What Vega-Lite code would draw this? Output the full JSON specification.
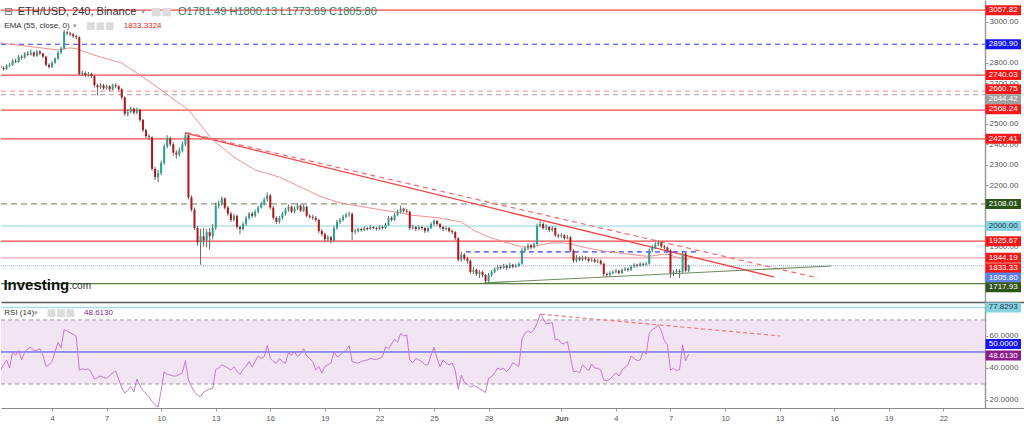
{
"$schema": "https://vega.github.io/schema/vega-lite/v6.json",
"padding": 0,
"spacing": 0,
"background": "#ffffff",
"config": {"view": {"stroke": null}, "font": "Liberation Sans", "axis": {"labelOverlap": false}, "axisY": {"labelOverlap": false}, "axisRight": {"labelOverlap": false}},
"datasets": {
"candles": [
{"t":"2022-05-01T04:00:00Z","o":2785,"h":2792,"l":2765,"c":2775,"r":38.7,"e":2897},
{"t":"2022-05-01T08:00:00Z","o":2775,"h":2782,"l":2762,"c":2770,"r":42,"e":2895},
{"t":"2022-05-01T12:00:00Z","o":2770,"h":2792,"l":2765,"c":2785,"r":45,"e":2893},
{"t":"2022-05-01T16:00:00Z","o":2785,"h":2800,"l":2778,"c":2790,"r":40,"e":2892},
{"t":"2022-05-01T20:00:00Z","o":2790,"h":2818,"l":2785,"c":2810,"r":50,"e":2890},
{"t":"2022-05-02T00:00:00Z","o":2810,"h":2820,"l":2798,"c":2805,"r":48,"e":2888},
{"t":"2022-05-02T04:00:00Z","o":2805,"h":2838,"l":2800,"c":2830,"r":51,"e":2886},
{"t":"2022-05-02T08:00:00Z","o":2830,"h":2840,"l":2815,"c":2825,"r":45,"e":2884},
{"t":"2022-05-02T12:00:00Z","o":2825,"h":2852,"l":2820,"c":2845,"r":50,"e":2883},
{"t":"2022-05-02T16:00:00Z","o":2845,"h":2858,"l":2832,"c":2840,"r":52,"e":2881},
{"t":"2022-05-02T20:00:00Z","o":2840,"h":2865,"l":2835,"c":2850,"r":53,"e":2879},
{"t":"2022-05-03T00:00:00Z","o":2850,"h":2856,"l":2828,"c":2835,"r":51,"e":2877},
{"t":"2022-05-03T04:00:00Z","o":2835,"h":2862,"l":2830,"c":2855,"r":51,"e":2875},
{"t":"2022-05-03T08:00:00Z","o":2855,"h":2862,"l":2838,"c":2845,"r":52,"e":2874},
{"t":"2022-05-03T12:00:00Z","o":2845,"h":2850,"l":2822,"c":2830,"r":48,"e":2872},
{"t":"2022-05-03T16:00:00Z","o":2830,"h":2835,"l":2782,"c":2790,"r":41,"e":2870},
{"t":"2022-05-03T20:00:00Z","o":2790,"h":2798,"l":2772,"c":2780,"r":42,"e":2868},
{"t":"2022-05-04T00:00:00Z","o":2780,"h":2808,"l":2775,"c":2800,"r":44,"e":2866},
{"t":"2022-05-04T04:00:00Z","o":2800,"h":2828,"l":2795,"c":2820,"r":50,"e":2865},
{"t":"2022-05-04T08:00:00Z","o":2820,"h":2858,"l":2815,"c":2850,"r":56,"e":2863},
{"t":"2022-05-04T12:00:00Z","o":2850,"h":2880,"l":2842,"c":2870,"r":52.5,"e":2866},
{"t":"2022-05-04T16:00:00Z","o":2870,"h":2962,"l":2865,"c":2950,"r":64,"e":2869},
{"t":"2022-05-04T20:00:00Z","o":2950,"h":2958,"l":2935,"c":2945,"r":63,"e":2871},
{"t":"2022-05-05T00:00:00Z","o":2945,"h":2952,"l":2930,"c":2940,"r":62,"e":2873},
{"t":"2022-05-05T04:00:00Z","o":2940,"h":2946,"l":2922,"c":2930,"r":61,"e":2871},
{"t":"2022-05-05T08:00:00Z","o":2930,"h":2938,"l":2915,"c":2925,"r":59.6,"e":2869},
{"t":"2022-05-05T12:00:00Z","o":2925,"h":2930,"l":2738,"c":2745,"r":38.7,"e":2863},
{"t":"2022-05-05T16:00:00Z","o":2745,"h":2762,"l":2735,"c":2750,"r":39.5,"e":2858},
{"t":"2022-05-05T20:00:00Z","o":2750,"h":2758,"l":2730,"c":2740,"r":39,"e":2853},
{"t":"2022-05-06T00:00:00Z","o":2740,"h":2755,"l":2732,"c":2745,"r":39.4,"e":2848},
{"t":"2022-05-06T04:00:00Z","o":2745,"h":2752,"l":2725,"c":2735,"r":37,"e":2843},
{"t":"2022-05-06T08:00:00Z","o":2735,"h":2740,"l":2680,"c":2690,"r":33,"e":2838},
{"t":"2022-05-06T12:00:00Z","o":2690,"h":2698,"l":2640,"c":2680,"r":34,"e":2833},
{"t":"2022-05-06T16:00:00Z","o":2680,"h":2700,"l":2672,"c":2690,"r":35,"e":2828},
{"t":"2022-05-06T20:00:00Z","o":2690,"h":2696,"l":2668,"c":2675,"r":34,"e":2824},
{"t":"2022-05-07T00:00:00Z","o":2675,"h":2694,"l":2668,"c":2685,"r":33.7,"e":2820},
{"t":"2022-05-07T04:00:00Z","o":2685,"h":2690,"l":2662,"c":2670,"r":35,"e":2816},
{"t":"2022-05-07T08:00:00Z","o":2670,"h":2698,"l":2665,"c":2690,"r":37,"e":2811},
{"t":"2022-05-07T12:00:00Z","o":2690,"h":2700,"l":2676,"c":2685,"r":38,"e":2807},
{"t":"2022-05-07T16:00:00Z","o":2685,"h":2692,"l":2660,"c":2670,"r":33,"e":2803},
{"t":"2022-05-07T20:00:00Z","o":2670,"h":2675,"l":2620,"c":2630,"r":27.5,"e":2799},
{"t":"2022-05-08T00:00:00Z","o":2630,"h":2636,"l":2540,"c":2550,"r":24.4,"e":2789},
{"t":"2022-05-08T04:00:00Z","o":2550,"h":2572,"l":2538,"c":2560,"r":26,"e":2779},
{"t":"2022-05-08T08:00:00Z","o":2560,"h":2585,"l":2552,"c":2575,"r":28.3,"e":2770},
{"t":"2022-05-08T12:00:00Z","o":2575,"h":2580,"l":2545,"c":2555,"r":25,"e":2760},
{"t":"2022-05-08T16:00:00Z","o":2555,"h":2580,"l":2548,"c":2570,"r":33,"e":2750},
{"t":"2022-05-08T20:00:00Z","o":2570,"h":2575,"l":2510,"c":2520,"r":29,"e":2740},
{"t":"2022-05-09T00:00:00Z","o":2520,"h":2525,"l":2460,"c":2470,"r":26,"e":2730},
{"t":"2022-05-09T04:00:00Z","o":2470,"h":2478,"l":2430,"c":2440,"r":24,"e":2719},
{"t":"2022-05-09T08:00:00Z","o":2440,"h":2450,"l":2420,"c":2435,"r":22,"e":2709},
{"t":"2022-05-09T12:00:00Z","o":2435,"h":2440,"l":2270,"c":2280,"r":19,"e":2698},
{"t":"2022-05-09T16:00:00Z","o":2280,"h":2290,"l":2225,"c":2240,"r":17,"e":2688},
{"t":"2022-05-09T20:00:00Z","o":2240,"h":2275,"l":2215,"c":2260,"r":15.6,"e":2677},
{"t":"2022-05-10T00:00:00Z","o":2260,"h":2320,"l":2250,"c":2310,"r":26,"e":2667},
{"t":"2022-05-10T04:00:00Z","o":2310,"h":2400,"l":2300,"c":2390,"r":37.7,"e":2656},
{"t":"2022-05-10T08:00:00Z","o":2390,"h":2445,"l":2380,"c":2430,"r":36,"e":2645},
{"t":"2022-05-10T12:00:00Z","o":2430,"h":2438,"l":2390,"c":2400,"r":35.6,"e":2634},
{"t":"2022-05-10T16:00:00Z","o":2400,"h":2410,"l":2345,"c":2360,"r":35,"e":2623},
{"t":"2022-05-10T20:00:00Z","o":2360,"h":2372,"l":2330,"c":2350,"r":35,"e":2612},
{"t":"2022-05-11T00:00:00Z","o":2350,"h":2385,"l":2340,"c":2370,"r":36,"e":2601},
{"t":"2022-05-11T04:00:00Z","o":2370,"h":2415,"l":2360,"c":2400,"r":37,"e":2591},
{"t":"2022-05-11T08:00:00Z","o":2400,"h":2458,"l":2390,"c":2445,"r":44.6,"e":2580},
{"t":"2022-05-11T12:00:00Z","o":2445,"h":2452,"l":2130,"c":2140,"r":32.5,"e":2569},
{"t":"2022-05-11T16:00:00Z","o":2140,"h":2150,"l":2070,"c":2080,"r":28.3,"e":2551},
{"t":"2022-05-11T20:00:00Z","o":2080,"h":2090,"l":1980,"c":1990,"r":25,"e":2532},
{"t":"2022-05-12T00:00:00Z","o":1990,"h":2000,"l":1905,"c":1920,"r":23,"e":2514},
{"t":"2022-05-12T04:00:00Z","o":1920,"h":1985,"l":1810,"c":1950,"r":22,"e":2496},
{"t":"2022-05-12T08:00:00Z","o":1950,"h":1990,"l":1900,"c":1930,"r":25,"e":2477},
{"t":"2022-05-12T12:00:00Z","o":1930,"h":1985,"l":1895,"c":1970,"r":26,"e":2459},
{"t":"2022-05-12T16:00:00Z","o":1970,"h":1990,"l":1885,"c":1950,"r":27,"e":2440},
{"t":"2022-05-12T20:00:00Z","o":1950,"h":2010,"l":1935,"c":1990,"r":27,"e":2422},
{"t":"2022-05-13T00:00:00Z","o":1990,"h":2115,"l":1980,"c":2100,"r":39,"e":2410},
{"t":"2022-05-13T04:00:00Z","o":2100,"h":2125,"l":2085,"c":2110,"r":40,"e":2398},
{"t":"2022-05-13T08:00:00Z","o":2110,"h":2145,"l":2100,"c":2135,"r":42,"e":2386},
{"t":"2022-05-13T12:00:00Z","o":2135,"h":2140,"l":2080,"c":2090,"r":41,"e":2374},
{"t":"2022-05-13T16:00:00Z","o":2090,"h":2098,"l":2050,"c":2060,"r":40,"e":2362},
{"t":"2022-05-13T20:00:00Z","o":2060,"h":2070,"l":2020,"c":2030,"r":38.7,"e":2350},
{"t":"2022-05-14T00:00:00Z","o":2030,"h":2060,"l":2022,"c":2050,"r":40.8,"e":2338},
{"t":"2022-05-14T04:00:00Z","o":2050,"h":2055,"l":1985,"c":1995,"r":38,"e":2329},
{"t":"2022-05-14T08:00:00Z","o":1995,"h":2002,"l":1960,"c":1985,"r":36,"e":2320},
{"t":"2022-05-14T12:00:00Z","o":1985,"h":2020,"l":1978,"c":2010,"r":39,"e":2311},
{"t":"2022-05-14T16:00:00Z","o":2010,"h":2050,"l":2002,"c":2040,"r":41,"e":2302},
{"t":"2022-05-14T20:00:00Z","o":2040,"h":2068,"l":2030,"c":2060,"r":44,"e":2293},
{"t":"2022-05-15T00:00:00Z","o":2060,"h":2070,"l":2040,"c":2050,"r":40.6,"e":2284},
{"t":"2022-05-15T04:00:00Z","o":2050,"h":2080,"l":2042,"c":2070,"r":44,"e":2275},
{"t":"2022-05-15T08:00:00Z","o":2070,"h":2100,"l":2062,"c":2090,"r":47.5,"e":2271},
{"t":"2022-05-15T12:00:00Z","o":2090,"h":2120,"l":2085,"c":2110,"r":46,"e":2266},
{"t":"2022-05-15T16:00:00Z","o":2110,"h":2140,"l":2100,"c":2130,"r":47,"e":2262},
{"t":"2022-05-15T20:00:00Z","o":2130,"h":2165,"l":2120,"c":2150,"r":54,"e":2257},
{"t":"2022-05-16T00:00:00Z","o":2150,"h":2158,"l":2082,"c":2090,"r":46,"e":2253},
{"t":"2022-05-16T04:00:00Z","o":2090,"h":2098,"l":2030,"c":2040,"r":44,"e":2249},
{"t":"2022-05-16T08:00:00Z","o":2040,"h":2048,"l":2010,"c":2020,"r":43,"e":2244},
{"t":"2022-05-16T12:00:00Z","o":2020,"h":2050,"l":2012,"c":2040,"r":46,"e":2240},
{"t":"2022-05-16T16:00:00Z","o":2040,"h":2070,"l":2032,"c":2060,"r":44,"e":2233},
{"t":"2022-05-16T20:00:00Z","o":2060,"h":2090,"l":2050,"c":2080,"r":43,"e":2226},
{"t":"2022-05-17T00:00:00Z","o":2080,"h":2105,"l":2070,"c":2095,"r":49.6,"e":2219},
{"t":"2022-05-17T04:00:00Z","o":2095,"h":2100,"l":2062,"c":2070,"r":48,"e":2212},
{"t":"2022-05-17T08:00:00Z","o":2070,"h":2095,"l":2062,"c":2085,"r":50,"e":2205},
{"t":"2022-05-17T12:00:00Z","o":2085,"h":2112,"l":2078,"c":2100,"r":47,"e":2198},
{"t":"2022-05-17T16:00:00Z","o":2100,"h":2106,"l":2068,"c":2075,"r":49,"e":2191},
{"t":"2022-05-17T20:00:00Z","o":2075,"h":2105,"l":2068,"c":2095,"r":52,"e":2184},
{"t":"2022-05-18T00:00:00Z","o":2095,"h":2100,"l":2042,"c":2050,"r":47.5,"e":2177},
{"t":"2022-05-18T04:00:00Z","o":2050,"h":2058,"l":2035,"c":2045,"r":46,"e":2170},
{"t":"2022-05-18T08:00:00Z","o":2045,"h":2055,"l":2030,"c":2040,"r":44,"e":2163},
{"t":"2022-05-18T12:00:00Z","o":2040,"h":2048,"l":2022,"c":2030,"r":38.7,"e":2156},
{"t":"2022-05-18T16:00:00Z","o":2030,"h":2035,"l":1965,"c":1975,"r":41,"e":2149},
{"t":"2022-05-18T20:00:00Z","o":1975,"h":1985,"l":1950,"c":1960,"r":36.7,"e":2142},
{"t":"2022-05-19T00:00:00Z","o":1960,"h":1968,"l":1922,"c":1935,"r":41,"e":2137},
{"t":"2022-05-19T04:00:00Z","o":1935,"h":1955,"l":1925,"c":1945,"r":42,"e":2132},
{"t":"2022-05-19T08:00:00Z","o":1945,"h":1952,"l":1915,"c":1930,"r":43,"e":2128},
{"t":"2022-05-19T12:00:00Z","o":1930,"h":2000,"l":1925,"c":1990,"r":50,"e":2123},
{"t":"2022-05-19T16:00:00Z","o":1990,"h":2030,"l":1982,"c":2020,"r":47,"e":2118},
{"t":"2022-05-19T20:00:00Z","o":2020,"h":2040,"l":2010,"c":2030,"r":48,"e":2113},
{"t":"2022-05-20T00:00:00Z","o":2030,"h":2055,"l":2022,"c":2045,"r":50,"e":2111},
{"t":"2022-05-20T04:00:00Z","o":2045,"h":2065,"l":2038,"c":2055,"r":51,"e":2108},
{"t":"2022-05-20T08:00:00Z","o":2055,"h":2070,"l":2045,"c":2060,"r":54,"e":2106},
{"t":"2022-05-20T12:00:00Z","o":2060,"h":2066,"l":1930,"c":1970,"r":44,"e":2103},
{"t":"2022-05-20T16:00:00Z","o":1970,"h":1985,"l":1960,"c":1975,"r":43.5,"e":2101},
{"t":"2022-05-20T20:00:00Z","o":1975,"h":1992,"l":1968,"c":1985,"r":43,"e":2098},
{"t":"2022-05-21T00:00:00Z","o":1985,"h":1992,"l":1972,"c":1980,"r":44,"e":2096},
{"t":"2022-05-21T04:00:00Z","o":1980,"h":1998,"l":1974,"c":1990,"r":44.6,"e":2093},
{"t":"2022-05-21T08:00:00Z","o":1990,"h":1996,"l":1978,"c":1985,"r":45,"e":2091},
{"t":"2022-05-21T12:00:00Z","o":1985,"h":2002,"l":1980,"c":1995,"r":46,"e":2088},
{"t":"2022-05-21T16:00:00Z","o":1995,"h":2000,"l":1983,"c":1990,"r":45.5,"e":2086},
{"t":"2022-05-21T20:00:00Z","o":1990,"h":1996,"l":1978,"c":1985,"r":45.4,"e":2083},
{"t":"2022-05-22T00:00:00Z","o":1985,"h":2004,"l":1980,"c":1995,"r":46,"e":2081},
{"t":"2022-05-22T04:00:00Z","o":1995,"h":2002,"l":1982,"c":1990,"r":47,"e":2078},
{"t":"2022-05-22T08:00:00Z","o":1990,"h":2015,"l":1985,"c":2005,"r":53.3,"e":2076},
{"t":"2022-05-22T12:00:00Z","o":2005,"h":2050,"l":2000,"c":2040,"r":52,"e":2074},
{"t":"2022-05-22T16:00:00Z","o":2040,"h":2048,"l":2022,"c":2030,"r":55,"e":2071},
{"t":"2022-05-22T20:00:00Z","o":2030,"h":2065,"l":2025,"c":2055,"r":58,"e":2069},
{"t":"2022-05-23T00:00:00Z","o":2055,"h":2080,"l":2048,"c":2070,"r":56,"e":2066},
{"t":"2022-05-23T04:00:00Z","o":2070,"h":2100,"l":2062,"c":2085,"r":61.6,"e":2064},
{"t":"2022-05-23T08:00:00Z","o":2085,"h":2090,"l":2065,"c":2075,"r":60,"e":2061},
{"t":"2022-05-23T12:00:00Z","o":2075,"h":2085,"l":2060,"c":2070,"r":60.6,"e":2057},
{"t":"2022-05-23T16:00:00Z","o":2070,"h":2075,"l":1980,"c":1990,"r":45,"e":2054},
{"t":"2022-05-23T20:00:00Z","o":1990,"h":2005,"l":1982,"c":1995,"r":43.3,"e":2053},
{"t":"2022-05-24T00:00:00Z","o":1995,"h":2000,"l":1975,"c":1985,"r":46,"e":2051},
{"t":"2022-05-24T04:00:00Z","o":1985,"h":2002,"l":1978,"c":1995,"r":45,"e":2050},
{"t":"2022-05-24T08:00:00Z","o":1995,"h":2000,"l":1980,"c":1990,"r":44,"e":2048},
{"t":"2022-05-24T12:00:00Z","o":1990,"h":1995,"l":1965,"c":1975,"r":42,"e":2047},
{"t":"2022-05-24T16:00:00Z","o":1975,"h":1998,"l":1968,"c":1990,"r":42,"e":2045},
{"t":"2022-05-24T20:00:00Z","o":1990,"h":2018,"l":1985,"c":2010,"r":48,"e":2044},
{"t":"2022-05-25T00:00:00Z","o":2010,"h":2032,"l":2002,"c":2025,"r":53,"e":2042},
{"t":"2022-05-25T04:00:00Z","o":2025,"h":2030,"l":2002,"c":2010,"r":46,"e":2041},
{"t":"2022-05-25T08:00:00Z","o":2010,"h":2015,"l":1985,"c":1995,"r":40.8,"e":2039},
{"t":"2022-05-25T12:00:00Z","o":1995,"h":2000,"l":1975,"c":1985,"r":45,"e":2036},
{"t":"2022-05-25T16:00:00Z","o":1985,"h":1998,"l":1978,"c":1990,"r":43,"e":2034},
{"t":"2022-05-25T20:00:00Z","o":1990,"h":1995,"l":1968,"c":1975,"r":42,"e":2031},
{"t":"2022-05-26T00:00:00Z","o":1975,"h":1982,"l":1960,"c":1970,"r":43,"e":2028},
{"t":"2022-05-26T04:00:00Z","o":1970,"h":1975,"l":1930,"c":1940,"r":38.7,"e":2025},
{"t":"2022-05-26T08:00:00Z","o":1940,"h":1945,"l":1825,"c":1835,"r":26.7,"e":2023},
{"t":"2022-05-26T12:00:00Z","o":1835,"h":1875,"l":1825,"c":1860,"r":35.6,"e":2020},
{"t":"2022-05-26T16:00:00Z","o":1860,"h":1868,"l":1830,"c":1840,"r":31,"e":2010},
{"t":"2022-05-26T20:00:00Z","o":1840,"h":1850,"l":1815,"c":1830,"r":30,"e":2000},
{"t":"2022-05-27T00:00:00Z","o":1830,"h":1835,"l":1765,"c":1775,"r":28,"e":1990},
{"t":"2022-05-27T04:00:00Z","o":1775,"h":1800,"l":1765,"c":1785,"r":29,"e":1980},
{"t":"2022-05-27T08:00:00Z","o":1785,"h":1792,"l":1755,"c":1765,"r":28.3,"e":1973},
{"t":"2022-05-27T12:00:00Z","o":1765,"h":1785,"l":1745,"c":1775,"r":27,"e":1967},
{"t":"2022-05-27T16:00:00Z","o":1775,"h":1782,"l":1748,"c":1760,"r":26,"e":1960},
{"t":"2022-05-27T20:00:00Z","o":1760,"h":1765,"l":1718,"c":1730,"r":24.6,"e":1954},
{"t":"2022-05-28T00:00:00Z","o":1730,"h":1770,"l":1722,"c":1760,"r":33.5,"e":1947},
{"t":"2022-05-28T04:00:00Z","o":1760,"h":1785,"l":1752,"c":1775,"r":34.6,"e":1941},
{"t":"2022-05-28T08:00:00Z","o":1775,"h":1798,"l":1768,"c":1790,"r":37,"e":1937},
{"t":"2022-05-28T12:00:00Z","o":1790,"h":1810,"l":1782,"c":1800,"r":40,"e":1932},
{"t":"2022-05-28T16:00:00Z","o":1800,"h":1808,"l":1786,"c":1795,"r":39,"e":1928},
{"t":"2022-05-28T20:00:00Z","o":1795,"h":1815,"l":1788,"c":1805,"r":39.8,"e":1923},
{"t":"2022-05-29T00:00:00Z","o":1805,"h":1812,"l":1785,"c":1795,"r":37.7,"e":1919},
{"t":"2022-05-29T04:00:00Z","o":1795,"h":1820,"l":1790,"c":1810,"r":40,"e":1915},
{"t":"2022-05-29T08:00:00Z","o":1810,"h":1815,"l":1792,"c":1800,"r":43.3,"e":1910},
{"t":"2022-05-29T12:00:00Z","o":1800,"h":1815,"l":1795,"c":1805,"r":42,"e":1906},
{"t":"2022-05-29T16:00:00Z","o":1805,"h":1822,"l":1798,"c":1815,"r":41,"e":1901},
{"t":"2022-05-29T20:00:00Z","o":1815,"h":1892,"l":1810,"c":1880,"r":58,"e":1897},
{"t":"2022-05-30T00:00:00Z","o":1880,"h":1900,"l":1870,"c":1890,"r":61.7,"e":1898},
{"t":"2022-05-30T04:00:00Z","o":1890,"h":1915,"l":1882,"c":1905,"r":63.3,"e":1898},
{"t":"2022-05-30T08:00:00Z","o":1905,"h":1912,"l":1885,"c":1895,"r":62,"e":1899},
{"t":"2022-05-30T12:00:00Z","o":1895,"h":1920,"l":1890,"c":1910,"r":64,"e":1899},
{"t":"2022-05-30T16:00:00Z","o":1910,"h":2012,"l":1905,"c":2000,"r":68,"e":1903},
{"t":"2022-05-30T20:00:00Z","o":2000,"h":2025,"l":1992,"c":2010,"r":73.5,"e":1907},
{"t":"2022-05-31T00:00:00Z","o":2010,"h":2018,"l":1982,"c":1990,"r":71,"e":1910},
{"t":"2022-05-31T04:00:00Z","o":1990,"h":2008,"l":1980,"c":1995,"r":67.5,"e":1913},
{"t":"2022-05-31T08:00:00Z","o":1995,"h":2000,"l":1970,"c":1980,"r":68,"e":1915},
{"t":"2022-05-31T12:00:00Z","o":1980,"h":2000,"l":1972,"c":1990,"r":68.3,"e":1917},
{"t":"2022-05-31T16:00:00Z","o":1990,"h":1995,"l":1945,"c":1955,"r":57.5,"e":1918},
{"t":"2022-05-31T20:00:00Z","o":1955,"h":1962,"l":1940,"c":1950,"r":58,"e":1918},
{"t":"2022-06-01T00:00:00Z","o":1950,"h":1965,"l":1942,"c":1955,"r":55.4,"e":1917},
{"t":"2022-06-01T04:00:00Z","o":1955,"h":1960,"l":1932,"c":1940,"r":55,"e":1916},
{"t":"2022-06-01T08:00:00Z","o":1940,"h":1955,"l":1935,"c":1945,"r":56.5,"e":1915},
{"t":"2022-06-01T12:00:00Z","o":1945,"h":1950,"l":1872,"c":1880,"r":47,"e":1913},
{"t":"2022-06-01T16:00:00Z","o":1880,"h":1885,"l":1820,"c":1830,"r":37.7,"e":1909},
{"t":"2022-06-01T20:00:00Z","o":1830,"h":1858,"l":1822,"c":1845,"r":38,"e":1905},
{"t":"2022-06-02T00:00:00Z","o":1845,"h":1852,"l":1828,"c":1835,"r":37,"e":1901},
{"t":"2022-06-02T04:00:00Z","o":1835,"h":1855,"l":1828,"c":1845,"r":42,"e":1897},
{"t":"2022-06-02T08:00:00Z","o":1845,"h":1852,"l":1832,"c":1840,"r":40,"e":1894},
{"t":"2022-06-02T12:00:00Z","o":1840,"h":1848,"l":1822,"c":1830,"r":38.3,"e":1891},
{"t":"2022-06-02T16:00:00Z","o":1830,"h":1845,"l":1825,"c":1835,"r":42.5,"e":1888},
{"t":"2022-06-02T20:00:00Z","o":1835,"h":1842,"l":1818,"c":1825,"r":40,"e":1885},
{"t":"2022-06-03T00:00:00Z","o":1825,"h":1838,"l":1818,"c":1830,"r":39.8,"e":1882},
{"t":"2022-06-03T04:00:00Z","o":1830,"h":1836,"l":1808,"c":1815,"r":38.7,"e":1880},
{"t":"2022-06-03T08:00:00Z","o":1815,"h":1820,"l":1752,"c":1765,"r":32.5,"e":1877},
{"t":"2022-06-03T12:00:00Z","o":1765,"h":1772,"l":1750,"c":1760,"r":32,"e":1875},
{"t":"2022-06-03T16:00:00Z","o":1760,"h":1778,"l":1752,"c":1770,"r":33,"e":1873},
{"t":"2022-06-03T20:00:00Z","o":1770,"h":1782,"l":1762,"c":1775,"r":35,"e":1871},
{"t":"2022-06-04T00:00:00Z","o":1775,"h":1790,"l":1768,"c":1780,"r":37,"e":1870},
{"t":"2022-06-04T04:00:00Z","o":1780,"h":1786,"l":1762,"c":1770,"r":35,"e":1868},
{"t":"2022-06-04T08:00:00Z","o":1770,"h":1792,"l":1765,"c":1785,"r":38.7,"e":1866},
{"t":"2022-06-04T12:00:00Z","o":1785,"h":1798,"l":1778,"c":1790,"r":40.4,"e":1864},
{"t":"2022-06-04T16:00:00Z","o":1790,"h":1796,"l":1776,"c":1785,"r":42,"e":1862},
{"t":"2022-06-04T20:00:00Z","o":1785,"h":1808,"l":1780,"c":1800,"r":47.5,"e":1861},
{"t":"2022-06-05T00:00:00Z","o":1800,"h":1818,"l":1795,"c":1810,"r":46,"e":1859},
{"t":"2022-06-05T04:00:00Z","o":1810,"h":1815,"l":1796,"c":1805,"r":44.6,"e":1857},
{"t":"2022-06-05T08:00:00Z","o":1805,"h":1822,"l":1800,"c":1815,"r":45,"e":1855},
{"t":"2022-06-05T12:00:00Z","o":1815,"h":1820,"l":1802,"c":1810,"r":50.2,"e":1854},
{"t":"2022-06-05T16:00:00Z","o":1810,"h":1825,"l":1805,"c":1815,"r":48.7,"e":1852},
{"t":"2022-06-05T20:00:00Z","o":1815,"h":1890,"l":1810,"c":1880,"r":61.7,"e":1853},
{"t":"2022-06-06T00:00:00Z","o":1880,"h":1905,"l":1872,"c":1895,"r":64,"e":1854},
{"t":"2022-06-06T04:00:00Z","o":1895,"h":1922,"l":1888,"c":1910,"r":65,"e":1856},
{"t":"2022-06-06T08:00:00Z","o":1910,"h":1930,"l":1902,"c":1920,"r":67,"e":1858},
{"t":"2022-06-06T12:00:00Z","o":1920,"h":1925,"l":1892,"c":1900,"r":63,"e":1860},
{"t":"2022-06-06T16:00:00Z","o":1900,"h":1908,"l":1885,"c":1895,"r":57,"e":1861},
{"t":"2022-06-06T20:00:00Z","o":1895,"h":1900,"l":1872,"c":1880,"r":54.4,"e":1862},
{"t":"2022-06-07T00:00:00Z","o":1880,"h":1885,"l":1745,"c":1770,"r":38.7,"e":1858},
{"t":"2022-06-07T04:00:00Z","o":1770,"h":1785,"l":1755,"c":1775,"r":39.8,"e":1852},
{"t":"2022-06-07T08:00:00Z","o":1775,"h":1790,"l":1765,"c":1780,"r":38.3,"e":1847},
{"t":"2022-06-07T12:00:00Z","o":1780,"h":1788,"l":1745,"c":1775,"r":39,"e":1843},
{"t":"2022-06-07T16:00:00Z","o":1775,"h":1875,"l":1770,"c":1865,"r":54.4,"e":1841},
{"t":"2022-06-07T20:00:00Z","o":1865,"h":1870,"l":1775,"c":1781.49,"r":44.6,"e":1837},
{"t":"2022-06-08T00:00:00Z","o":1781.49,"h":1810,"l":1773.69,"c":1805.8,"r":48.6,"e":1833.3}
],
"levels": [
{"p":3057.82,"s":"red"},{"p":2890.90,"s":"bluedash"},{"p":2740.03,"s":"red"},{"p":2660.75,"s":"reddash"},
{"p":2644.42,"s":"graydash"},{"p":2568.24,"s":"red"},{"p":2427.41,"s":"red"},{"p":2108.01,"s":"olivedash"},
{"p":2000.00,"s":"cyan"},{"p":1925.67,"s":"red"},{"p":1844.19,"s":"pink"},{"p":1805.80,"s":"dotted"},{"p":1717.93,"s":"green"}
],
"trends": [
{"id":"a","t":"2022-05-11T07:00:00Z","p":2456},{"id":"a","t":"2022-06-12T17:00:00Z","p":1750},
{"id":"b","t":"2022-05-11T09:00:00Z","p":2458},{"id":"b","t":"2022-06-15T03:00:00Z","p":1745},
{"id":"c","t":"2022-05-27T18:00:00Z","p":1721},{"id":"c","t":"2022-06-15T20:00:00Z","p":1804},
{"id":"d","t":"2022-05-26T18:00:00Z","p":1873},{"id":"d","t":"2022-06-08T14:00:00Z","p":1873}
],
"ptags": [
{"p":3057.82,"at":3057.82,"s":"red"},{"p":2890.90,"at":2890.90,"s":"blue"},{"p":2740.03,"at":2740.03,"s":"red"},
{"p":2660.75,"at":2670,"s":"red"},{"p":2644.42,"at":2621,"s":"gray"},{"p":2568.24,"at":2572,"s":"red"},
{"p":2427.41,"at":2427.41,"s":"red"},{"p":2108.01,"at":2108.01,"s":"green"},{"p":2000.00,"at":2000,"s":"cyan"},
{"p":1925.67,"at":1925.67,"s":"red"},{"p":1844.19,"at":1844.19,"s":"red"},{"p":1833.33,"at":1793,"s":"red"},
{"p":1805.80,"at":1747,"s":"last"},{"p":1717.93,"at":1700,"s":"green"}
],
"rtrend": [
{"t":"2022-05-30T21:00:00Z","r":73.6},{"t":"2022-06-13T01:00:00Z","r":60}
],
"rtags": [
{"p":77.8293,"at":77.83,"s":"cyan"},{"p":50,"at":55,"s":"blue"},{"p":48.613,"at":47.8,"s":"purple"}
]
},
"vconcat": [
{
"width": 1024,
"height": 302,
"layer": [
{
"data": {"name": "levels"},
"mark": {"type": "rule", "clip": true},
"encoding": {
"x": {"datum": 1651380120000, "type": "temporal"},
"x2": {"datum": 1656054000000},
"y": {"field": "p", "type": "quantitative", "title": null},
"color": {"field": "s", "type": "nominal", "legend": null,
"scale": {"domain": ["red","bluedash","reddash","graydash","olivedash","cyan","pink","dotted","green"],
"range": ["#f44a4a","#3a3af2","#f5a3a3","#b3b3b3","#8d977f","#8ed2de","#f5a8a8","#a9bcf3","#587f3f"]}},
"strokeDash": {"field": "s", "type": "nominal", "legend": null,
"scale": {"domain": ["red","bluedash","reddash","graydash","olivedash","cyan","pink","dotted","green"],
"range": [[1,0],[5,4],[5,4],[5,4],[6,4],[1,0],[1,0],[1,1],[1,0]]}},
"strokeWidth": {"field": "s", "type": "nominal", "legend": null,
"scale": {"domain": ["red","bluedash","reddash","graydash","olivedash","cyan","pink","dotted","green"],
"range": [1.2,1.2,1.5,1.2,1.5,1.2,2.5,2,1.2]}}
}
},
{
"data": {"name": "trends"},
"transform": [{"filter": "datum.id === 'a'"}],
"mark": {"type": "line", "color": "#f04646", "strokeWidth": 1.3, "clip": true},
"encoding": {"x": {"field": "t", "type": "temporal"}, "y": {"field": "p", "type": "quantitative", "title": null}}
},
{
"data": {"name": "trends"},
"transform": [{"filter": "datum.id === 'b'"}],
"mark": {"type": "line", "color": "#f26a6a", "strokeWidth": 1.2, "strokeDash": [5,4], "clip": true},
"encoding": {"x": {"field": "t", "type": "temporal"}, "y": {"field": "p", "type": "quantitative", "title": null}}
},
{
"data": {"name": "trends"},
"transform": [{"filter": "datum.id === 'c'"}],
"mark": {"type": "line", "color": "#70895f", "strokeWidth": 1.2, "clip": true},
"encoding": {"x": {"field": "t", "type": "temporal"}, "y": {"field": "p", "type": "quantitative", "title": null}}
},
{
"data": {"name": "trends"},
"transform": [{"filter": "datum.id === 'd'"}],
"mark": {"type": "line", "color": "#3a3af2", "strokeWidth": 1.2, "strokeDash": [5,4], "clip": true},
"encoding": {"x": {"field": "t", "type": "temporal"}, "y": {"field": "p", "type": "quantitative", "title": null}}
},
{
"data": {"name": "candles"},
"mark": {"type": "line", "color": "#f28c8c", "strokeWidth": 1, "clip": true},
"encoding": {"x": {"field": "t", "type": "temporal"}, "y": {"field": "e", "type": "quantitative", "title": null}}
},
{
"data": {"name": "candles"},
"mark": {"type": "rule", "color": "#5f6e62", "strokeWidth": 1, "clip": true},
"encoding": {"x": {"field": "t", "type": "temporal"}, "y": {"field": "l", "type": "quantitative", "title": null}, "y2": {"field": "h"}}
},
{
"data": {"name": "candles"},
"mark": {"type": "bar", "width": 2, "clip": true},
"encoding": {
"x": {"field": "t", "type": "temporal", "title": null,
"scale": {"type": "utc", "domain": [1651380120000, 1656243900000], "padding": 0},
"axis": {"orient": "bottom", "labels": false, "ticks": false, "domain": true, "domainColor": "#5a5a5a", "domainWidth": 1.5, "grid": false, "title": null}},
"y": {"field": "o", "type": "quantitative", "title": null,
"scale": {"domain": [1627.5, 3107.8], "nice": false, "zero": false, "padding": 0},
"axis": {"orient": "right", "offset": -40, "values": [1900,2200,2300,2400,2500,2700,2800,3000],
"format": ".2f", "labelFontSize": 8, "labelColor": "#555", "labelFont": "Liberation Sans", "tickColor": "#999", "tickSize": 3,
"domainColor": "#9a9a9a", "domainWidth": 1.5, "labelPadding": 1, "grid": false, "title": null, "labelBaseline": "middle", "labelOverlap": false}},
"y2": {"field": "c"},
"color": {"condition": {"test": "datum.c >= datum.o", "value": "#26a38e"}, "value": "#b2141a"}
}
},
{
"data": {"name": "ptags"},
"mark": {"type": "bar", "height": 10},
"encoding": {
"x": {"datum": 1656056460000, "type": "temporal"},
"x2": {"datum": 1656225000000},
"y": {"field": "at", "type": "quantitative", "title": null},
"fill": {"field": "s", "type": "nominal", "legend": null,
"scale": {"domain": ["red","blue","gray","green","cyan","last"], "range": ["#f51818","#1515f0","#a0a0a0","#2e5419","#88d2e2","#5a80ea"]}}
}
},
{
"data": {"name": "ptags"},
"mark": {"type": "text", "fontSize": 8, "align": "center", "baseline": "middle", "font": "Liberation Sans"},
"encoding": {
"x": {"datum": 1656140280000, "type": "temporal"},
"y": {"field": "at", "type": "quantitative", "title": null},
"text": {"field": "p", "type": "quantitative", "format": ".2f"},
"color": {"condition": {"test": "datum.s === 'cyan'", "value": "#1b3b4b"}, "value": "#ffffff"}
}
},
{
"data": {"values": [{"txt": "⊟"}]},
"mark": {"type": "text", "align": "left", "baseline": "middle", "fontSize": 11, "color": "#777", "font": "DejaVu Sans"},
"encoding": {"x": {"datum": 1651394400000, "type": "temporal"}, "y": {"datum": 3049, "type": "quantitative"}, "text": {"field": "txt"}}
},
{
"data": {"values": [{"txt": "ETH/USD, 240, Binance"}]},
"mark": {"type": "text", "align": "left", "baseline": "middle", "fontSize": 11, "color": "#333"},
"encoding": {"x": {"datum": 1651459440000, "type": "temporal"}, "y": {"datum": 3049, "type": "quantitative"}, "text": {"field": "txt"}}
},
{
"data": {"values": [{"txt": "▾"}]},
"mark": {"type": "text", "align": "left", "baseline": "middle", "fontSize": 8, "color": "#999", "font": "DejaVu Sans"},
"encoding": {"x": {"datum": 1652045160000, "type": "temporal"}, "y": {"datum": 3049, "type": "quantitative"}, "text": {"field": "txt"}}
},
{
"data": {"values": [{"txt": "■■"}]},
"mark": {"type": "text", "align": "left", "baseline": "middle", "fontSize": 11, "color": "#dcdcdc", "font": "DejaVu Sans"},
"encoding": {"x": {"datum": 1652092680000, "type": "temporal"}, "y": {"datum": 3049, "type": "quantitative"}, "text": {"field": "txt"}}
},
{
"data": {"values": [{"txt": "O1781.49  H1800.13  L1773.69  C1805.80"}]},
"mark": {"type": "text", "align": "left", "baseline": "middle", "fontSize": 11, "color": "#2f7d5d"},
"encoding": {"x": {"datum": 1652220900000, "type": "temporal"}, "y": {"datum": 3049, "type": "quantitative"}, "text": {"field": "txt"}}
},
{
"data": {"values": [{"txt": "EMA (55, close, 0)"}]},
"mark": {"type": "text", "align": "left", "baseline": "middle", "fontSize": 8, "color": "#333"},
"encoding": {"x": {"datum": 1651395840000, "type": "temporal"}, "y": {"datum": 2980, "type": "quantitative"}, "text": {"field": "txt"}}
},
{
"data": {"values": [{"txt": "▾"}]},
"mark": {"type": "text", "align": "left", "baseline": "middle", "fontSize": 7, "color": "#999", "font": "DejaVu Sans"},
"encoding": {"x": {"datum": 1651722120000, "type": "temporal"}, "y": {"datum": 2980, "type": "quantitative"}, "text": {"field": "txt"}}
},
{
"data": {"values": [{"txt": "■■■"}]},
"mark": {"type": "text", "align": "left", "baseline": "middle", "fontSize": 10, "color": "#dcdcdc", "font": "DejaVu Sans"},
"encoding": {"x": {"datum": 1651783860000, "type": "temporal"}, "y": {"datum": 2980, "type": "quantitative"}, "text": {"field": "txt"}}
},
{
"data": {"values": [{"txt": "1833.3324"}]},
"mark": {"type": "text", "align": "left", "baseline": "middle", "fontSize": 8, "color": "#e02626"},
"encoding": {"x": {"datum": 1651962960000, "type": "temporal"}, "y": {"datum": 2980, "type": "quantitative"}, "text": {"field": "txt"}}
},
{
"data": {"values": [{"txt": "Investing"}]},
"mark": {"type": "text", "align": "right", "baseline": "middle", "fontSize": 15, "fontWeight": "bold", "color": "#111"},
"encoding": {"x": {"datum": 1651704540000, "type": "temporal"}, "y": {"datum": 1711, "type": "quantitative"}, "text": {"field": "txt"}}
},
{
"data": {"values": [{"txt": ".com"}]},
"mark": {"type": "text", "align": "left", "baseline": "middle", "fontSize": 10, "color": "#333", "dy": 1},
"encoding": {"x": {"datum": 1651704540000, "type": "temporal"}, "y": {"datum": 1711, "type": "quantitative"}, "text": {"field": "txt"}}
}
],
"resolve": {"scale": {"color": "independent", "fill": "independent"}}
},
{
"width": 1024,
"height": 105,
"layer": [
{
"data": {"values": [{"lo": 30, "hi": 70}]},
"mark": {"type": "rect", "color": "#f3e4f3"},
"encoding": {
"x": {"datum": 1651380120000, "type": "temporal"},
"x2": {"datum": 1656054000000},
"y": {"field": "hi", "type": "quantitative", "title": null}, "y2": {"field": "lo"}
}
},
{
"data": {"values": [{"v": 70}, {"v": 30}]},
"mark": {"type": "rule", "color": "#a09aa0", "strokeDash": [4,3], "strokeWidth": 1},
"encoding": {
"x": {"datum": 1651380120000, "type": "temporal"},
"x2": {"datum": 1656054000000},
"y": {"field": "v", "type": "quantitative", "title": null}
}
},
{
"data": {"values": [{"v": 50}]},
"mark": {"type": "rule", "color": "#3b3bf0", "strokeWidth": 1},
"encoding": {
"x": {"datum": 1651380120000, "type": "temporal"},
"x2": {"datum": 1656054000000},
"y": {"field": "v", "type": "quantitative", "title": null}
}
},
{
"data": {"values": [{"v": 77.8293}]},
"mark": {"type": "rule", "color": "#a9dde8", "strokeWidth": 1.5},
"encoding": {
"x": {"datum": 1651380120000, "type": "temporal"},
"x2": {"datum": 1656054000000},
"y": {"field": "v", "type": "quantitative", "title": null}
}
},
{
"data": {"name": "candles"},
"mark": {"type": "line", "color": "#c07ccc", "strokeWidth": 1, "clip": true},
"encoding": {
"x": {"field": "t", "type": "temporal", "title": null,
"scale": {"type": "utc", "domain": [1651380120000, 1656243900000], "padding": 0},
"axis": {"orient": "bottom", "title": null, "grid": false, "labelFlush": false,
"values": [1651622400000,1651881600000,1652140800000,1652400000000,1652659200000,1652918400000,1653177600000,1653436800000,1653696000000,1654041600000,1654300800000,1654560000000,1654819200000,1655078400000,1655337600000,1655596800000,1655856000000],
"labelExpr": "utcdate(datum.value) == 1 ? 'Jun' : '' + utcdate(datum.value)",
"labelFontWeight": {"condition": {"test": "utcdate(datum.value) == 1", "value": "bold"}, "value": "normal"},
"labelFontSize": 7.5, "labelColor": "#555", "labelFont": "Liberation Sans", "tickColor": "#999", "tickSize": 3, "domainColor": "#8a8a8a", "labelPadding": 3}},
"y": {"field": "r", "type": "quantitative", "title": null,
"scale": {"domain": [15, 80.6], "nice": false, "zero": false, "padding": 0},
"axis": {"orient": "right", "offset": -40, "values": [20, 40, 60], "format": ".4f", "labelFontSize": 8, "labelColor": "#555",
"labelFont": "Liberation Sans", "tickColor": "#999", "tickSize": 3, "domainColor": "#9a9a9a", "domainWidth": 1.5, "labelPadding": 1,
"grid": false, "title": null, "labelBaseline": "middle", "labelOverlap": false}}
}
},
{
"data": {"name": "rtrend"},
"mark": {"type": "line", "color": "#f47a7a", "strokeWidth": 1.2, "strokeDash": [4,3], "clip": true},
"encoding": {"x": {"field": "t", "type": "temporal"}, "y": {"field": "r", "type": "quantitative", "title": null}}
},
{
"data": {"name": "rtags"},
"mark": {"type": "bar", "height": 10},
"encoding": {
"x": {"datum": 1656056460000, "type": "temporal"},
"x2": {"datum": 1656225000000},
"y": {"field": "at", "type": "quantitative", "title": null},
"fill": {"field": "s", "type": "nominal", "legend": null,
"scale": {"domain": ["cyan","blue","purple"], "range": ["#88d2e2","#1515f0","#8c1c8c"]}}
}
},
{
"data": {"name": "rtags"},
"mark": {"type": "text", "fontSize": 8, "align": "center", "baseline": "middle", "font": "Liberation Sans"},
"encoding": {
"x": {"datum": 1656140280000, "type": "temporal"},
"y": {"field": "at", "type": "quantitative", "title": null},
"text": {"field": "p", "type": "quantitative", "format": ".4f"},
"color": {"condition": {"test": "datum.s === 'cyan'", "value": "#1b3b4b"}, "value": "#ffffff"}
}
},
{
"data": {"values": [{"txt": "RSI (14)"}]},
"mark": {"type": "text", "align": "left", "baseline": "middle", "fontSize": 8, "color": "#333"},
"encoding": {"x": {"datum": 1651395840000, "type": "temporal"}, "y": {"datum": 74.4, "type": "quantitative"}, "text": {"field": "txt"}}
},
{
"data": {"values": [{"txt": "▾"}]},
"mark": {"type": "text", "align": "left", "baseline": "middle", "fontSize": 7, "color": "#999", "font": "DejaVu Sans"},
"encoding": {"x": {"datum": 1651536840000, "type": "temporal"}, "y": {"datum": 74.4, "type": "quantitative"}, "text": {"field": "txt"}}
},
{
"data": {"values": [{"txt": "■■■"}]},
"mark": {"type": "text", "align": "left", "baseline": "middle", "fontSize": 10, "color": "#dcdcdc", "font": "DejaVu Sans"},
"encoding": {"x": {"datum": 1651597200000, "type": "temporal"}, "y": {"datum": 74.4, "type": "quantitative"}, "text": {"field": "txt"}}
},
{
"data": {"values": [{"txt": "48.6130"}]},
"mark": {"type": "text", "align": "left", "baseline": "middle", "fontSize": 8, "color": "#8c1c8c"},
"encoding": {"x": {"datum": 1651774380000, "type": "temporal"}, "y": {"datum": 74.4, "type": "quantitative"}, "text": {"field": "txt"}}
}
],
"resolve": {"scale": {"fill": "independent"}}
}
]
}
